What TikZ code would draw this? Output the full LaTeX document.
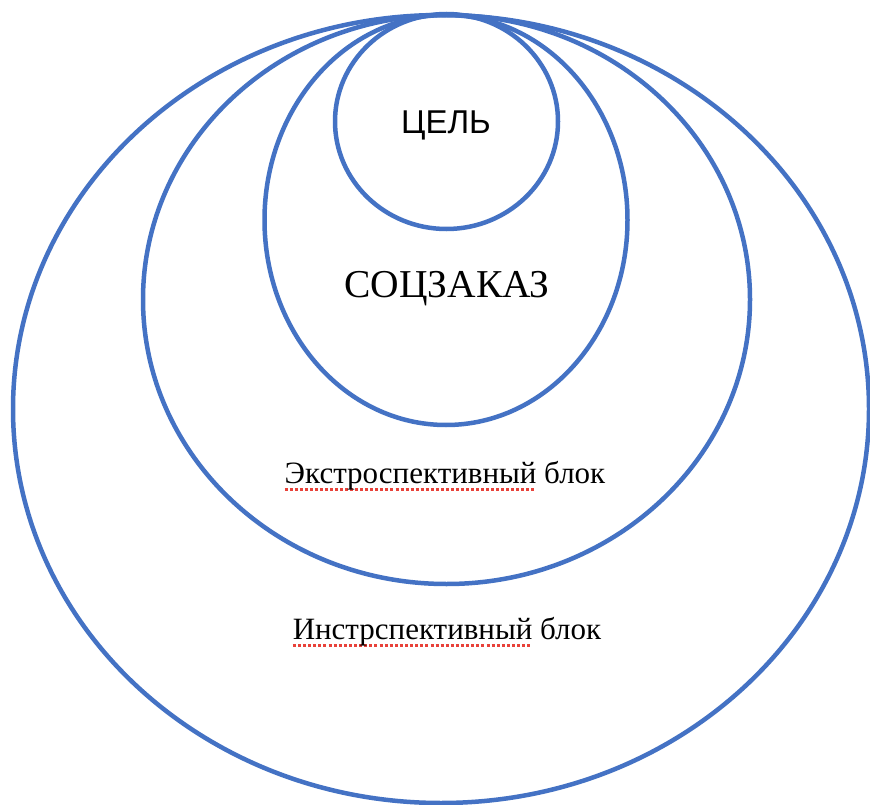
\documentclass[tikz,border=0pt]{standalone}
\usepackage{fontspec}
\setmainfont{Liberation Serif}
\newfontfamily\arialf{Liberation Sans}
\definecolor{ringblue}{HTML}{4472C4}
\definecolor{spellred}{HTML}{E8423A}
\newcommand\spellmark[1]{\leavevmode\setbox0\hbox{#1}\rlap{\color{spellred}\hbox to \wd0{\xleaders\hbox{\rule[-7.5pt]{3pt}{2.5pt}\kern2pt}\hfill}}\box0\relax}
\tikzset{
  ring/.style={draw=ringblue, line width=4.5pt},
  lbl/.style={anchor=base, inner sep=0pt, text=black}
}
\begin{document}
\begin{tikzpicture}[x=1pt,y=-1pt]
\useasboundingbox (0,0) rectangle (870,805);
\fill[white] (0,0) rectangle (870,805);
\draw[ring] (441,409) ellipse [x radius=428, y radius=394];
\draw[ring] (446.5,299.5) ellipse [x radius=303.5, y radius=284.5];
\draw[ring] (446,220) ellipse [x radius=181.5, y radius=205];
\draw[ring] (446.5,121.5) ellipse [x radius=111.5, y radius=107.5];
\node[lbl, font=\arialf\fontsize{33}{37}\selectfont] (goal) at (446,134) {ЦЕЛЬ};
\node[lbl, font=\fontsize{39.5}{44}\selectfont] (order) at (447,297) {СОЦЗАКАЗ};
\node[lbl, font=\fontsize{31}{35}\selectfont] (extro) at (445,483) {\spellmark{Экстроспективный} блок};
\node[lbl, font=\fontsize{31}{35}\selectfont] (intro) at (447,639) {\spellmark{Инстрспективный} блок};
\end{tikzpicture}
\end{document}
